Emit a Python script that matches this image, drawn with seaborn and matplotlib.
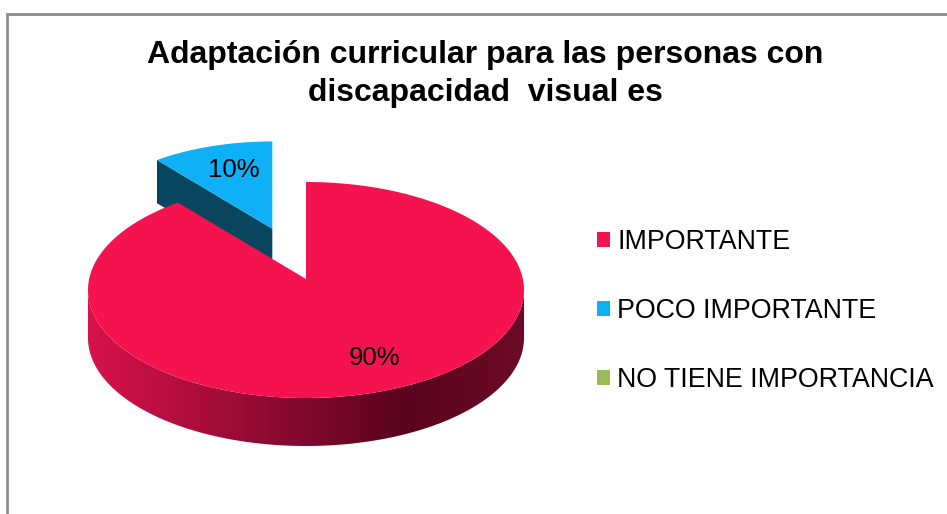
import numpy as np
import matplotlib
matplotlib.use("Agg")
import matplotlib.pyplot as plt
from matplotlib.patches import Patch, Polygon
from matplotlib.colors import to_rgb
import seaborn as sns

# ---- data ----
categories = ["IMPORTANTE", "POCO IMPORTANTE", "NO TIENE IMPORTANCIA"]
values = [90, 10, 0]
labels = ["90%", "10%", ""]
title_lines = ["Adaptación curricular para las personas con", "discapacidad  visual es"]

sns.set_theme(style="white")
plt.rcParams['font.family'] = ['Liberation Sans', 'DejaVu Sans']
plt.rcParams['text.color'] = 'black'

palette = sns.color_palette(["#f5134f", "#0fb0f6", "#9bbb59"])
side_dark = {1: "#08465f"}

W, H = 947, 514
fig = plt.figure(figsize=(W / 100, H / 100), dpi=100)
ax = fig.add_axes([0, 0, 1, 1])
ax.set_xlim(0, W)
ax.set_ylim(H, 0)
ax.axis("off")

# frame
ax.plot([7, 7, W], [H, 14, 14], color="#8c8c8c", lw=2, solid_joinstyle="miter")

# ---- 3D pie geometry (projected ellipse) ----
cx, cy = 306, 290       # ellipse centre
a, b = 218, 108         # semi axes
apex_shift = -11        # perspective shift of apex
depth = 48
explode_pos = {1: 0.5}
shrink = {1: 0.9}
label_r = {0: 0.66, 1: 0.74}
label_nudge = {0: 24, 1: 6}

total = sum(values)
fracs = [v / total for v in values]
starts = np.cumsum([0] + fracs[:-1]) * 360
ends = starts + np.array(fracs) * 360


def pt(t, s=1.0, ox=0.0, oy=0.0):
    t = np.radians(t)
    return ox + s * a * np.sin(t), oy - s * b * np.cos(t)


def draw_slice(i, zorder):
    if values[i] == 0:
        return
    t0, t1 = starts[i], ends[i]
    mid = (t0 + t1) / 2
    s = shrink.get(i, 1.0)
    e = explode_pos.get(i, 0.0)
    ex, ey = pt(mid, e)
    ox, oy = cx + ex, cy + ey
    apx, apy = ox, oy + apex_shift * s
    d = depth * s
    col = to_rgb(palette[i])
    ts = np.linspace(t0, t1, 300)
    rx, ry = pt(ts, s, ox, oy)
    # cut face at start edge
    if i in side_dark:
        x0, y0 = pt(t0, s, ox, oy)
        ax.fill([apx, x0, x0, apx], [apy, y0, y0 + d, apy + d],
                color=side_dark[i], lw=0, zorder=zorder)
    # outer side wall on front arc with horizontal gradient
    lo, hi = max(t0, 90), min(t1, 270)
    if hi > lo:
        tt = np.linspace(lo, hi, 300)
        xx, yy = pt(tt, s, ox, oy)
        verts = np.c_[np.r_[xx, xx[::-1]], np.r_[yy, yy[::-1] + d]]
        poly = Polygon(verts, closed=True, facecolor="none", edgecolor="none")
        ax.add_patch(poly)
        xl, xr = ox - a * s, ox + a * s
        n = 400
        f = np.linspace(0, 1, n)
        c_left = np.array(to_rgb("#d8124c"))
        c_dark = np.array(to_rgb("#5a041f"))
        c_right = np.array(to_rgb("#6c0a27"))
        grad = np.where(f[:, None] < 0.72,
                        c_left + (c_dark - c_left) * (f[:, None] / 0.72),
                        c_dark + (c_right - c_dark) * ((f[:, None] - 0.72) / 0.28))
        img = np.repeat(grad[None, :, :], 2, axis=0)
        im = ax.imshow(img, extent=(xl, xr, yy.max() + d + 2, yy.min() - 2),
                       aspect="auto", interpolation="bilinear", zorder=zorder)
        im.set_clip_path(poly)
    # top face
    ax.fill(np.r_[apx, rx], np.r_[apy, ry], color=col, lw=0, zorder=zorder + 0.5)
    # label
    if labels[i]:
        lx, ly = pt(mid, label_r[i] * s, apx, apy - apex_shift * s)
        ax.text(lx + label_nudge[i], ly, labels[i], ha="center", va="center",
                fontsize=18.5, color="black", zorder=10)


draw_slice(1, 1)
draw_slice(0, 3)
ax.set_xlim(0, W)
ax.set_ylim(H, 0)

# title
fig.text(485 / W, 1 - 55 / H, title_lines[0], ha="center", va="center",
         fontsize=23, fontweight="bold", color="black")
fig.text(485 / W, 1 - 93 / H, title_lines[1], ha="center", va="center",
         fontsize=23, fontweight="bold", color="black")

# legend
handles = [Patch(facecolor=palette[i], edgecolor="none") for i in range(3)]
leg = fig.legend(handles, categories, loc="center left",
                 bbox_to_anchor=(597 / W, 1 - 311 / H), frameon=False,
                 fontsize=19.3, handlelength=0.5, handleheight=0.5,
                 handletextpad=0.25, labelspacing=1.6, borderpad=0,
                 borderaxespad=0)
for t in leg.get_texts():
    t.set_color("black")

fig.savefig("out.png", dpi=100)
